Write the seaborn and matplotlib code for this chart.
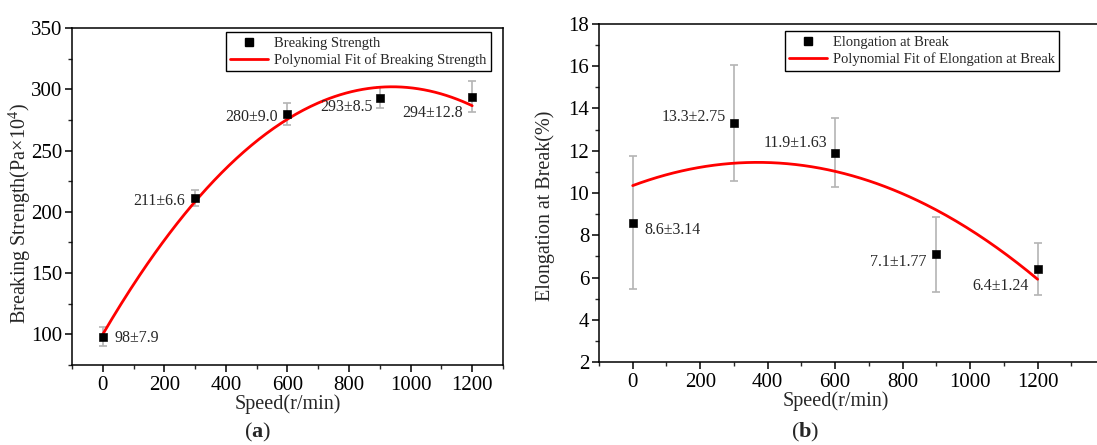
import numpy as np
import pandas as pd
import matplotlib
matplotlib.use("Agg")
import matplotlib.pyplot as plt
from matplotlib.lines import Line2D
from matplotlib.ticker import MultipleLocator
import seaborn as sns

# data
speed = [0, 300, 600, 900, 1200]
strength = [98, 211, 280, 293, 294]
strength_err = [7.9, 6.6, 9.0, 8.5, 12.8]
elongation = [8.6, 13.3, 11.9, 7.1, 6.4]
elongation_err = [3.14, 2.75, 1.63, 1.77, 1.24]

# quadratic fit coefficients (highest power first), estimated from the drawn curves
fit_strength = [-2.286e-4, 0.4298, 100.0]
fit_elongation = [-8.03e-6, 0.005942, 10.35]

labels_a = ["98±7.9", "211±6.6", "280±9.0", "293±8.5", "294±12.8"]
labels_b = ["8.6±3.14", "13.3±2.75", "11.9±1.63", "7.1±1.77", "6.4±1.24"]

sns.set_theme(style="ticks")
plt.rcParams["font.family"] = ["Liberation Serif", "DejaVu Serif"]
plt.rcParams["mathtext.fontset"] = "custom"
plt.rcParams["mathtext.rm"] = "Liberation Serif"
plt.rcParams["mathtext.bf"] = "Liberation Serif:bold"

df = pd.DataFrame({"speed": speed, "strength": strength, "s_err": strength_err,
                   "elong": elongation, "e_err": elongation_err})
xs = np.linspace(0, 1200, 200)
fit_df = pd.DataFrame({"speed": xs,
                       "fit_s": np.polyval(fit_strength, xs),
                       "fit_e": np.polyval(fit_elongation, xs)})

fig = plt.figure(figsize=(10.97, 4.45), dpi=100)
ax1 = fig.add_axes([0.0656, 0.1798, 0.3929, 0.7573])
ax2 = fig.add_axes([0.546, 0.1865, 0.454, 0.7596])


def draw_panel(ax, ycol, ecol, fcol, texts, names, anchor):
    ax.errorbar(df["speed"], df[ycol], yerr=df[ecol], fmt="none",
                ecolor="#b4b4b4", elinewidth=1.2, capsize=3, capthick=1.2, zorder=1)
    sns.lineplot(data=fit_df, x="speed", y=fcol, ax=ax, color="red", lw=2, zorder=2)
    sns.scatterplot(data=df, x="speed", y=ycol, ax=ax, marker="s", color="black",
                    s=32, edgecolor="black", zorder=3)
    for lab, (tx, ty, ha) in texts:
        ax.text(tx, ty, lab, fontsize=11.5, ha=ha, va="center")
    handles = [Line2D([], [], marker="s", color="black", ls="none", markersize=5.5),
               Line2D([], [], color="red", lw=2)]
    leg = ax.legend(handles, names, loc="upper right", bbox_to_anchor=anchor,
                    fontsize=10.5, frameon=True, fancybox=False, edgecolor="black",
                    framealpha=1, borderpad=0.3, handlelength=2.6, handletextpad=0.4,
                    labelspacing=0.25, borderaxespad=0)
    leg.get_frame().set_linewidth(1.0)


# panel (a)
pos_a = [(38, 97, "left"), (266, 209, "right"), (568, 277, "right"),
         (877, 285.5, "right"), (1170, 281, "right")]
draw_panel(ax1, "strength", "s_err", "fit_s", zip(labels_a, pos_a),
           ["Breaking Strength", "Polynomial Fit of Breaking Strength"], (0.972, 0.988))
ax1.set_xlim(-100, 1300)
ax1.set_ylim(75, 350)
ax1.xaxis.set_major_locator(MultipleLocator(200))
ax1.xaxis.set_minor_locator(MultipleLocator(100))
ax1.yaxis.set_major_locator(MultipleLocator(50))
ax1.yaxis.set_minor_locator(MultipleLocator(25))
ax1.set_xlabel("Speed(r/min)", fontsize=14.5)
ax1.set_ylabel("Breaking Strength(Pa×10$^4$)", fontsize=14.5)
ax1.xaxis.set_label_coords(0.5, -0.087)
ax1.yaxis.set_label_coords(-0.09, 0.448)

# panel (b)
pos_b = [(36, 8.25, "left"), (276, 13.6, "right"), (576, 12.38, "right"),
         (871, 6.75, "right"), (1175, 5.61, "right")]
draw_panel(ax2, "elong", "e_err", "fit_e", zip(labels_b, pos_b),
           ["Elongation at Break", "Polynomial Fit of Elongation at Break"], (0.924, 0.978))
ax2.set_xlim(-100, 1376)
ax2.set_ylim(2, 18)
ax2.xaxis.set_major_locator(MultipleLocator(200))
ax2.xaxis.set_minor_locator(MultipleLocator(100))
ax2.yaxis.set_major_locator(MultipleLocator(2))
ax2.yaxis.set_minor_locator(MultipleLocator(1))
ax2.set_xlabel("Speed(r/min)", fontsize=14.5)
ax2.set_ylabel("Elongation at Break(%)", fontsize=14.5)
ax2.xaxis.set_label_coords(0.476, -0.086)
ax2.yaxis.set_label_coords(-0.088, 0.462)
ax2.spines["right"].set_visible(False)

for ax in (ax1, ax2):
    for sp in ax.spines.values():
        sp.set_linewidth(1.1)
        sp.set_color("black")
    ax.tick_params(which="major", direction="out", length=5, width=1.1,
                   labelsize=15, pad=2, colors="black")
    ax.tick_params(axis="x", which="major", pad=3)
    ax.tick_params(which="minor", direction="out", length=3, width=1.0)
    ax.tick_params(top=False, right=False, which="both")

fig.text(258 / 1097, 1 - 432 / 445, r"($\mathbf{a}$)", fontsize=16, ha="center", va="center")
fig.text(805 / 1097, 1 - 432 / 445, r"($\mathbf{b}$)", fontsize=16, ha="center", va="center")

fig.savefig("out.png", dpi=100)
